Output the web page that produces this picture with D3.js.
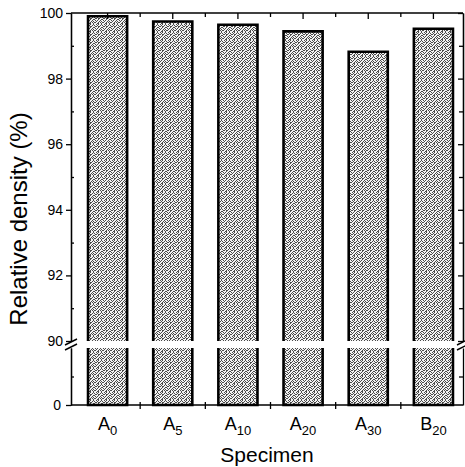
<!DOCTYPE html>
<html>
<head>
<meta charset="utf-8">
<script src="https://cdnjs.cloudflare.com/ajax/libs/d3/7.8.5/d3.min.js"></script>
<style>
  body { margin: 0; background: #fff; }
  svg { display: block; font-family: "Liberation Sans", Arial, sans-serif; }
  .axis path, .axis line { stroke: #000; stroke-width: 1.3; }
  .axis text { font-size: 14px; fill: #000; font-family: "Liberation Sans", Arial, sans-serif; }
</style>
</head>
<body>
<svg id="chart" width="465" height="467"></svg>
<script>
// data
var labelBase = ["A", "A", "A", "A", "A", "B"];
var labelSub = ["0", "5", "10", "20", "30", "20"];
var density = [99.9, 99.74, 99.64, 99.44, 98.82, 99.52];
var upperTicks = [90, 92, 94, 96, 98, 100];
var upperMinor = [91, 93, 95, 97, 99];
var lowerTicks = [0];
var lowerMinor = [10];

var specimens = labelBase.map(function(b, i) { return b + labelSub[i]; });

// layout
var axL = 71, axR = 463, axT = 13,
  upperBottom = 341, lowerTop = 348, axB = 405;

var svg = d3.select("#chart");

// stipple pattern for bars
var tile = [
  "10100100",
  "01001010",
  "10110001",
  "00100110",
  "01001001",
  "10010100",
  "00101011",
  "01100100"
];
var pat = svg.append("defs").append("pattern")
  .attr("id", "stipple")
  .attr("patternUnits", "userSpaceOnUse")
  .attr("width", 8).attr("height", 8);
pat.append("rect").attr("width", 8).attr("height", 8).attr("fill", "#f2f2f2");
tile.forEach(function(row, r) {
  row.split("").forEach(function(c, k) {
    if (c === "1") pat.append("rect").attr("x", k).attr("y", r)
      .attr("width", 1).attr("height", 1).attr("fill", "#4a4a4a");
  });
});

// scales
var x = d3.scaleBand().domain(specimens).range([75, 466])
  .paddingInner(0.4).paddingOuter(0.2);
var yUp = d3.scaleLinear().domain([90, 100]).range([upperBottom, axT]);
var yLow = d3.scaleLinear().domain([0, 20]).range([axB, lowerTop]);

// bars: upper and lower parts
var bars = svg.append("g");
bars.selectAll(".up").data(density).enter().append("rect")
  .attr("x", function(d, i) { return x(specimens[i]); })
  .attr("y", function(d) { return yUp(d); })
  .attr("width", x.bandwidth())
  .attr("height", function(d) { return upperBottom - yUp(d); })
  .attr("fill", "url(#stipple)");
bars.selectAll(".low").data(density).enter().append("rect")
  .attr("x", function(d, i) { return x(specimens[i]); })
  .attr("y", lowerTop)
  .attr("width", x.bandwidth())
  .attr("height", axB - lowerTop)
  .attr("fill", "url(#stipple)");
// outlines (open at the break)
bars.selectAll(".edgeUp").data(density).enter().append("path")
  .attr("fill", "none").attr("stroke", "#000").attr("stroke-width", 2.6)
  .attr("d", function(d, i) {
    var x0 = x(specimens[i]), x1 = x0 + x.bandwidth();
    return "M" + x0 + "," + upperBottom + "V" + yUp(d) + "H" + x1 + "V" + upperBottom;
  });
bars.selectAll(".edgeLow").data(density).enter().append("path")
  .attr("fill", "none").attr("stroke", "#000").attr("stroke-width", 2.6)
  .attr("d", function(d, i) {
    var x0 = x(specimens[i]), x1 = x0 + x.bandwidth();
    return "M" + x0 + "," + lowerTop + "V" + axB + "H" + x1 + "V" + lowerTop;
  });

// left axis
svg.append("g").attr("class", "axis").attr("transform", "translate(" + axL + ",0)")
  .call(d3.axisLeft(yUp).tickValues(upperTicks).tickSize(5).tickSizeOuter(0).tickPadding(3));
svg.append("g").attr("class", "axis").attr("transform", "translate(" + axL + ",0)")
  .call(d3.axisLeft(yUp).tickValues(upperMinor).tickSize(-3).tickSizeOuter(0).tickFormat(""));
svg.append("g").attr("class", "axis").attr("transform", "translate(" + axL + ",0)")
  .call(d3.axisLeft(yLow).tickValues(lowerTicks).tickSize(5).tickSizeOuter(0).tickPadding(5));
svg.append("g").attr("class", "axis").attr("transform", "translate(" + axL + ",0)")
  .call(d3.axisLeft(yLow).tickValues(lowerMinor).tickSize(-3).tickSizeOuter(0).tickFormat(""));

// right axis
svg.append("g").attr("class", "axis").attr("transform", "translate(" + axR + ",0)")
  .call(d3.axisRight(yUp).tickValues(upperTicks).tickSize(-5).tickSizeOuter(0).tickFormat(""));
svg.append("g").attr("class", "axis").attr("transform", "translate(" + axR + ",0)")
  .call(d3.axisRight(yUp).tickValues(upperMinor).tickSize(-4).tickSizeOuter(0).tickFormat(""));
svg.append("g").attr("class", "axis").attr("transform", "translate(" + axR + ",0)")
  .call(d3.axisRight(yLow).tickValues(lowerMinor).tickSize(-4).tickSizeOuter(0).tickFormat(""));

// axis breaks
[axL, axR].forEach(function(ax) {
  [upperBottom + 1, lowerTop - 1].forEach(function(yy) {
    svg.append("line").attr("x1", ax - 6).attr("y1", yy + 3)
      .attr("x2", ax + 6).attr("y2", yy - 3)
      .attr("stroke", "#000").attr("stroke-width", 1.4);
  });
});

// bottom axis: ticks at slot boundaries
var edges = specimens.slice(1).map(function(s) { return x(s) - x.step() * x.paddingInner() / 2; });
var bottomG = svg.append("g").attr("class", "axis");
bottomG.append("line").attr("x1", axL).attr("x2", axR).attr("y1", axB).attr("y2", axB);
bottomG.selectAll(".t").data(edges).enter().append("line")
  .attr("x1", function(d) { return d; }).attr("x2", function(d) { return d; })
  .attr("y1", axB - 3).attr("y2", axB + 4);

// top axis: ticks at bar centres and slot boundaries
var topG = svg.append("g").attr("class", "axis");
topG.append("line").attr("x1", axL).attr("x2", axR).attr("y1", axT).attr("y2", axT);
topG.selectAll(".c").data(specimens).enter().append("line")
  .attr("x1", function(d) { return x(d) + x.bandwidth() / 2; })
  .attr("x2", function(d) { return x(d) + x.bandwidth() / 2; })
  .attr("y1", axT).attr("y2", axT + 6);
topG.selectAll(".e").data(edges).enter().append("line")
  .attr("x1", function(d) { return d; }).attr("x2", function(d) { return d; })
  .attr("y1", axT).attr("y2", axT + 4);

// category labels with subscripts
var cat = svg.selectAll(".cat").data(specimens).enter().append("text")
  .attr("x", function(d) { return x(d) + x.bandwidth() / 2; })
  .attr("y", 430)
  .attr("text-anchor", "middle")
  .style("font-size", "18px");
cat.append("tspan").text(function(d, i) { return labelBase[i]; });
cat.append("tspan").attr("dy", 5).style("font-size", "13px")
  .text(function(d, i) { return labelSub[i]; });

// axis titles
svg.append("text").attr("x", 267).attr("y", 462).attr("text-anchor", "middle")
  .style("font-size", "21px").text("Specimen");
svg.append("text").attr("transform", "translate(27,219) rotate(-90)")
  .attr("text-anchor", "middle").style("font-size", "24px")
  .text("Relative density (%)");
</script>
</body>
</html>
